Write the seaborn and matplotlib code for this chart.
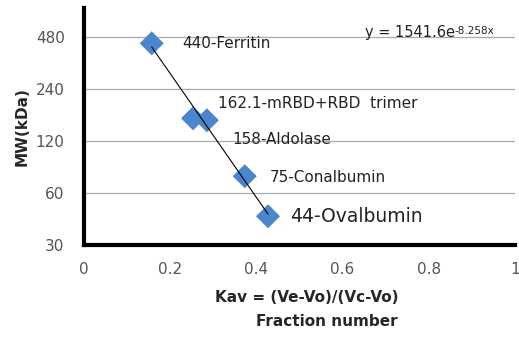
import numpy as np
import pandas as pd
import matplotlib
matplotlib.use("Agg")
import matplotlib.pyplot as plt
import matplotlib.ticker as mticker
import seaborn as sns

# standards
proteins = ["440-Ferritin", "162.1-mRBD+RBD  trimer", "158-Aldolase", "75-Conalbumin", "44-Ovalbumin"]
kav = [0.157, 0.253, 0.285, 0.373, 0.427]
mw = [440, 162.1, 158, 75, 44]
y_ticks = [30, 60, 120, 240, 480]
x_ticks = [0, 0.2, 0.4, 0.6, 0.8, 1]

df = pd.DataFrame({"protein": proteins, "kav": kav, "mw": mw})

sns.set_style("white")
plt.rcParams["font.family"] = ["DejaVu Sans"]

fig = plt.figure(figsize=(5.19, 3.38), dpi=100)
ax = fig.add_axes([0.162, 0.275, 0.83, 0.70])

# exponential trendline fitted to the standards
b, a = np.polyfit(df["kav"], np.log(df["mw"]), 1)
xs = np.linspace(df["kav"].min(), df["kav"].max(), 50)
ax.plot(xs, np.exp(a) * np.exp(b * xs), color="black", lw=0.8, zorder=3)

sns.scatterplot(data=df, x="kav", y="mw", marker="D", s=150, color="#4A86CC",
                edgecolor="none", ax=ax, zorder=2)

ax.set_yscale("log", base=2)
ax.set_ylim(30, 700)
ax.set_xlim(0, 1)
ax.set_yticks(y_ticks)
ax.yaxis.set_major_formatter(mticker.FuncFormatter(lambda v, p: f"{v:g}"))
ax.yaxis.set_minor_locator(mticker.NullLocator())
ax.set_xticks(x_ticks)
ax.xaxis.set_major_formatter(mticker.FuncFormatter(lambda v, p: f"{v:g}"))
ax.tick_params(axis="both", length=0, labelsize=11, colors="#555555")
ax.tick_params(axis="x", pad=12)
ax.tick_params(axis="y", pad=14)
ax.grid(axis="y", color="#AAAAAA", lw=0.9)
ax.set_axisbelow(True)
ax.set_xlabel("")
ax.set_ylabel("")

for side in ["top", "right"]:
    ax.spines[side].set_visible(False)
for side in ["left", "bottom"]:
    ax.spines[side].set_linewidth(3)
    ax.spines[side].set_color("black")

# point labels
offsets = {"440-Ferritin": (22, 0), "162.1-mRBD+RBD  trimer": (18, 11),
           "158-Aldolase": (18, -14), "75-Conalbumin": (18, -1), "44-Ovalbumin": (16, 0)}
for _, r in df.iterrows():
    size = 13.5 if r["protein"] == "44-Ovalbumin" else 11
    ax.annotate(r["protein"], (r["kav"], r["mw"]), xytext=offsets[r["protein"]],
                textcoords="offset points", va="center", ha="left",
                fontsize=size, color="#222222")

# trendline equation, exponent drawn as a small raised text
eq = ax.text(0.652, 506, "y = 1541.6e", fontsize=10.5, color="#222222", va="center")
ax.annotate("-8.258x", xy=(1, 0.95), xycoords=eq, va="top", ha="left",
            fontsize=7.5, color="#222222")

fig.text(22 / 519, 1 - 127 / 338, "MW(kDa)", rotation=90, ha="center", va="center",
         fontsize=11, fontweight="bold")
fig.text(307 / 519, 1 - 297 / 338, "Kav = (Ve-Vo)/(Vc-Vo)", ha="center", va="center",
         fontsize=11, fontweight="bold")
fig.text(327 / 519, 1 - 322 / 338, "Fraction number", ha="center", va="center",
         fontsize=11, fontweight="bold")

fig.savefig("out.png", dpi=100)
